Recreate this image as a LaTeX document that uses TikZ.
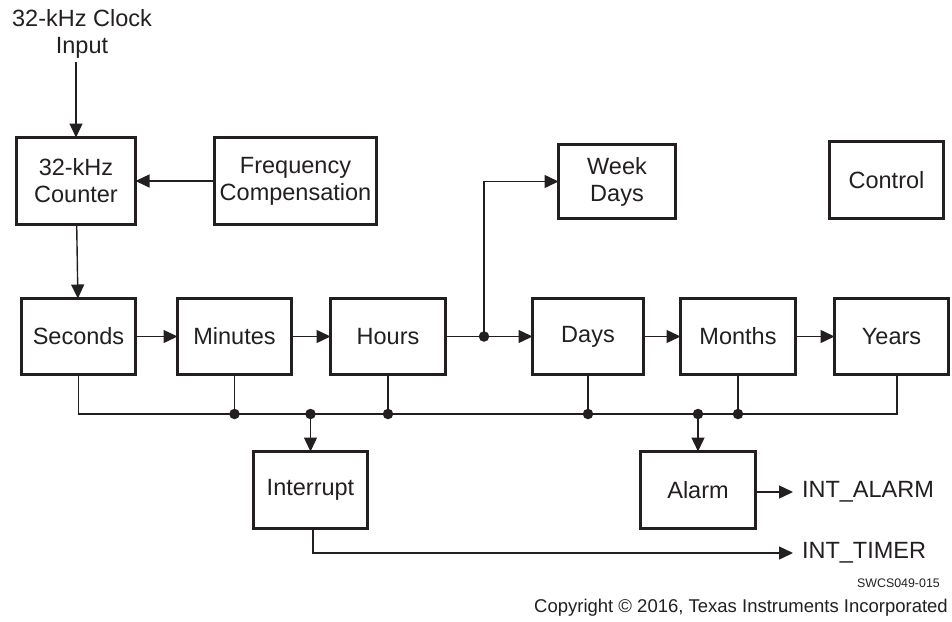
\documentclass[tikz,border=0pt]{standalone}
\usepackage{fontspec}
\setmainfont{Liberation Sans}
\usetikzlibrary{arrows.meta,calc}
\definecolor{ink}{RGB}{35,31,32}
\begin{document}
\begin{tikzpicture}[x=1pt,y=-1pt,
  blk/.style={draw=ink,line width=3.8pt,inner sep=0pt,outer sep=0pt,align=center,
    font=\fontsize{23.5}{27}\selectfont,text=ink},
  lbl/.style={inner sep=0pt,outer sep=0pt,align=center,font=\fontsize{23.5}{27}\selectfont,text=ink},
  wire/.style={draw=ink,line width=1.4pt},
  arr/.style={wire,-{Triangle[length=14pt,width=13pt]}},
  dot/.style={circle,fill=ink,inner sep=0pt,minimum size=10.5pt}]
\useasboundingbox (0,0) rectangle (952,621);
% boxes
\node[blk,minimum width=119pt,minimum height=87pt] (cnt) at (76,181) {32-kHz\\Counter};
\node[blk,minimum width=162pt,minimum height=87pt] (fc) at (295.5,181) {Frequency\\Compensation};
\node[blk,minimum width=117pt,minimum height=74pt] (wd) at (617,181.5) {Week\\Days};
\node[blk,minimum width=114pt,minimum height=77pt] (ctl) at (886.5,180) {Control};
\node[blk,minimum width=114pt,minimum height=76pt] (sec) at (78.5,336.5) {Seconds};
\node[blk,minimum width=114pt,minimum height=76pt] (min) at (234.5,336.5) {Minutes};
\node[blk,minimum width=115pt,minimum height=76pt] (hrs) at (388,336.5) {Hours};
\node[blk,minimum width=111pt,minimum height=76pt] (day) at (588,336.5) {Days};
\node[blk,minimum width=115pt,minimum height=76pt] (mon) at (738,336.5) {Months};
\node[blk,minimum width=114pt,minimum height=76pt] (yrs) at (891.5,336.5) {Years};
\node[blk,minimum width=114pt,minimum height=77pt] (int) at (310.5,490) {Interrupt};
\node[blk,minimum width=115pt,minimum height=77pt] (alm) at (698,490) {Alarm};
% labels
\node[lbl,inner ysep=4pt] (clk) at (82,33.5) {32-kHz Clock\\Input};
\node[lbl,anchor=west] (ia) at (802,492) {INT\_ALARM};
\node[lbl,anchor=west] (it) at (802,553) {INT\_TIMER};
\node[inner sep=0pt,anchor=east,font=\fontsize{12.4}{14}\selectfont,text=ink] (sw) at (940,583) {SWCS049-015};
\node[inner sep=0pt,anchor=east,font=\fontsize{18.5}{21}\selectfont,text=ink] (cr) at (948,608) {Copyright © 2016, Texas Instruments Incorporated};
% coordinates
\coordinate (hj) at (484,336.5);
\coordinate (wj) at (484,181.5);
\coordinate (bl) at (78.5,414);
\coordinate (br) at (897,414);
\coordinate (bmin) at (234.5,414);
\coordinate (bhrs) at (388,414);
\coordinate (bday) at (588,414);
\coordinate (bmon) at (738,414);
\coordinate (bint) at (310.5,414);
\coordinate (balm) at (698,414);
\coordinate (tc) at (313,553);
% connectors
\draw[arr] (clk.south -| cnt) -- (cnt);
\draw[arr] (fc) -- (cnt);
\draw[arr] (cnt) -- (sec);
\draw[arr] (sec) -- (min);
\draw[arr] (min) -- (hrs);
\draw[wire] (hrs) -- (hj);
\draw[arr] (hj) -- (day);
\draw[arr] (hj) -- (wj) -- (wd);
\draw[arr] (day) -- (mon);
\draw[arr] (mon) -- (yrs);
\draw[wire] (sec) -- (bl) -- (br) -- (br |- yrs.south);
\draw[wire] (min) -- (bmin);
\draw[wire] (hrs) -- (bhrs);
\draw[wire] (day) -- (bday);
\draw[wire] (mon) -- (bmon);
\draw[arr] (bint) -- (int);
\draw[arr] (balm) -- (alm);
\draw[arr,shorten >=9pt] (alm.east |- ia) -- (ia);
\draw[arr,shorten >=9pt] (int.south -| tc) -- (tc) -- (it);
\node[dot] at (hj) {};
\node[dot] at (bmin) {};
\node[dot] at (bhrs) {};
\node[dot] at (bday) {};
\node[dot] at (bmon) {};
\node[dot] at (bint) {};
\node[dot] at (balm) {};
\end{tikzpicture}
\end{document}
